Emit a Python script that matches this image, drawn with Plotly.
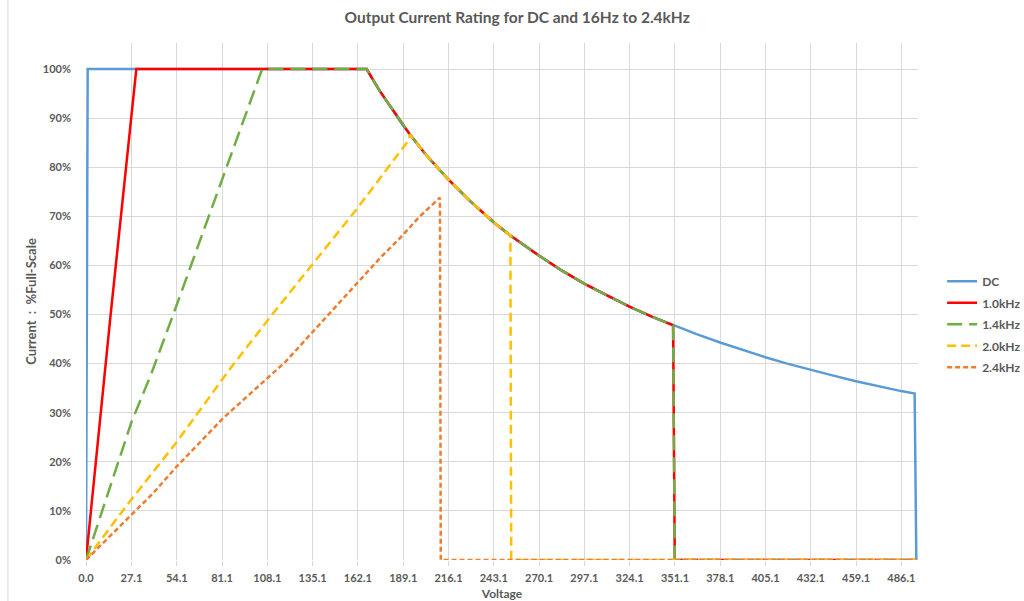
import plotly.graph_objects as go

# Constant-power region shared by all ratings (voltage V, current % of full scale)
rated_v = [167.3, 175, 189, 193, 202, 216, 229, 243, 253, 270, 283, 297, 310, 324, 337, 350,
           364, 378, 391, 405, 418, 432, 445, 459, 472, 486, 494]
rated_i = [100, 95.6, 88.5, 86.7, 82.8, 77.5, 73.1, 68.8, 66.1, 62.0, 59.1, 56.3, 54.0, 51.6, 49.6, 47.8,
           46.0, 44.3, 42.8, 41.3, 40.0, 38.7, 37.6, 36.4, 35.4, 34.4, 33.9]

# Rising (frequency-limited) part of each rating
dc_rise_v = [0, 1]
dc_rise_i = [0, 100]
k10_rise_v = [0, 14.4, 30]
k10_rise_i = [0, 49, 100]
k14_rise_v = [0, 27, 39, 52, 105]
k14_rise_i = [0, 28, 38, 50, 100]
k20_rise_v = [0, 24, 54, 86, 111, 161, 192.8]
k20_rise_i = [0, 11, 24, 39, 50, 71.3, 85.7]
k24_rise_v = [0, 40, 54, 81.5, 119, 175, 187, 199, 211]
k24_rise_i = [0, 13.6, 19, 28.8, 40.4, 61.4, 65.5, 70, 73.8]

# Voltage at which each rating drops to zero, and the end of the sweep
k10_cut_v = [351, 495]
k14_cut_v = [351, 495]
k20_cut_v = [253.5, 495]
k24_cut_v = [211.5, 495]
dc_end_v = [495]
cut_i = [0, 0]

x_ticks = [0.0, 27.1, 54.1, 81.1, 108.1, 135.1, 162.1, 189.1, 216.1, 243.1, 270.1,
           297.1, 324.1, 351.1, 378.1, 405.1, 432.1, 459.1, 486.1]
y_ticks = [0, 10, 20, 30, 40, 50, 60, 70, 80, 90, 100]


def rated_between(lo, hi):
    pts = [(v, i) for v, i in zip(rated_v, rated_i) if lo < v <= hi]
    return [p[0] for p in pts], [p[1] for p in pts]


def series(rise_v, rise_i, lo, hi, tail_v, tail_i):
    mv, mi = rated_between(lo, hi)
    return rise_v + mv + tail_v, rise_i + mi + tail_i


dc_v, dc_i = series(dc_rise_v, dc_rise_i, 0, 494, dc_end_v, [0])
k10_v, k10_i = series(k10_rise_v, k10_rise_i, 100, 350, k10_cut_v, cut_i)
k14_v, k14_i = series(k14_rise_v, k14_rise_i, 105, 350, k14_cut_v, cut_i)
k20_v, k20_i = series(k20_rise_v, k20_rise_i, 192.8, 253, k20_cut_v, cut_i)
k24_v, k24_i = k24_rise_v + k24_cut_v, k24_rise_i + cut_i

FONT = "Lato"
GREY = "#595959"
GRID = "#D9D9D9"

fig = go.Figure()
styles = [
    ("DC", dc_v, dc_i, "#5B9BD5", "solid"),
    ("1.0kHz", k10_v, k10_i, "#FF0000", "solid"),
    ("1.4kHz", k14_v, k14_i, "#70AD47", "15px,7px"),
    ("2.0kHz", k20_v, k20_i, "#FFC000", "9px,5px"),
    ("2.4kHz", k24_v, k24_i, "#ED7D31", "5px,3px"),
]
for name, xv, yv, color, dash in styles:
    fig.add_trace(go.Scatter(
        x=xv, y=yv, mode="lines", name=name, legendgroup=name,
        line=dict(color=color, width=2.5, dash=dash),
    ))

fig.update_layout(
    width=1024, height=601,
    margin=dict(l=86, r=106, t=43, b=41, autoexpand=False),
    paper_bgcolor="white", plot_bgcolor="white",
    font=dict(family=FONT, color=GREY, size=11),
    title=dict(text="Output Current Rating for DC and 16Hz to 2.4kHz",
               x=0.505, xanchor="center", y=0.97, yanchor="middle",
               font=dict(family=FONT, size=15.5, color=GREY, weight="bold")),
    legend=dict(x=1.029, xanchor="left", y=0.567, yanchor="top",
                traceorder="grouped", tracegroupgap=2.5,
                font=dict(family=FONT, size=12, color=GREY, weight="bold"),
                bgcolor="rgba(0,0,0,0)"),
    showlegend=True,
)
fig.update_xaxes(
    range=[0, 496], tickvals=x_ticks, ticktext=[f"{t:.1f}" for t in x_ticks],
    showgrid=True, gridcolor=GRID, gridwidth=1,
    ticks="outside", ticklen=5, tickcolor=GRID,
    showline=False, zeroline=False, automargin=False,
    ticklabelstandoff=3,
    tickfont=dict(family=FONT, size=11, color=GREY, weight="bold"),
    title=dict(text="Voltage", standoff=32,
               font=dict(family=FONT, size=12, color=GREY, weight="bold")),
)
fig.update_yaxes(
    range=[0, 105.3], tickvals=y_ticks, ticktext=[f"{t}%" for t in y_ticks],
    showgrid=True, gridcolor=GRID, gridwidth=1,
    zeroline=False, showline=False, ticks="", automargin=False,
    ticklabelstandoff=14,
    tickfont=dict(family=FONT, size=11, color=GREY, weight="bold"),
    title=dict(text="Current&nbsp;&nbsp;:&nbsp;&nbsp;%Full-Scale", standoff=3,
               font=dict(family=FONT, size=13, color=GREY, weight="bold")),
)

# faint frame line along the left edge
fig.add_shape(type="line", xref="paper", yref="paper",
              x0=-0.0938, x1=-0.0938, y0=-0.08, y1=1.09,
              line=dict(color=GRID, width=1))

fig.write_html("out.html")
